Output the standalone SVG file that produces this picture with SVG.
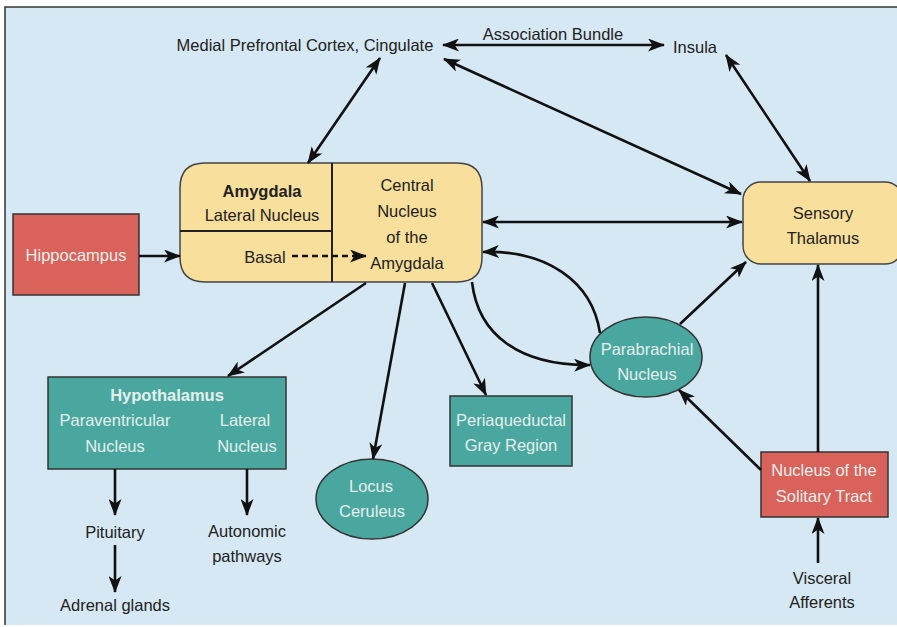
<svg xmlns="http://www.w3.org/2000/svg" width="897" height="627" viewBox="0 0 897 627">
<style>
text{font-family:"Liberation Sans",Arial,sans-serif;font-size:16.5px;fill:#222;text-anchor:middle}
.lt{fill:#e4efec}
.b{font-weight:bold}
.yel{fill:#f8df9c;stroke:#444;stroke-width:1.5}
.teal{fill:#4aa7a0;stroke:#333;stroke-width:1.5}
.red{fill:#d9625a;stroke:#333;stroke-width:1.5}
.c{fill:none;stroke:#111;stroke-width:2.6}
</style>
<defs>
<marker id="ah" viewBox="0 0 17 13" refX="16" refY="6.5" markerWidth="17" markerHeight="13" markerUnits="userSpaceOnUse" orient="auto-start-reverse">
<path d="M0,0 L17,6.5 L0,13 L4.5,6.5 z" fill="#111"/>
</marker>
</defs>
<rect x="0" y="0" width="897" height="627" fill="#fff"/>
<rect x="5" y="7" width="892" height="618" fill="#d6e8f3"/>
<path d="M5,625 V7 H897" fill="none" stroke="#333" stroke-width="1.5"/>

<g id="mpfc"><text x="305" y="51">Medial Prefrontal Cortex, Cingulate</text></g>
<g id="insula"><text x="695" y="53">Insula</text></g>
<g id="assoc"><text x="553" y="40">Association Bundle</text></g>

<g id="amygdala">
<path class="yel" d="M205,163 H457 Q482,163 482,188 V257 Q482,282 457,282 H205 Q180,282 180,257 V188 Q180,163 205,163 Z"/>
<line x1="332" y1="163" x2="332" y2="282" stroke="#222" stroke-width="2"/>
<line x1="180" y1="231" x2="332" y2="231" stroke="#222" stroke-width="2"/>
<text x="262" y="197" class="b">Amygdala</text>
<text x="262" y="221">Lateral Nucleus</text>
<text x="265" y="263">Basal</text>
<text x="407" y="191">Central</text>
<text x="407" y="217">Nucleus</text>
<text x="407" y="243">of the</text>
<text x="407" y="269">Amygdala</text>
</g>

<g id="hippocampus">
<rect class="red" x="13" y="214" width="126" height="81"/>
<text x="76" y="261" class="lt">Hippocampus</text>
</g>

<g id="thalamus">
<rect class="yel" x="743" y="182" width="160" height="82" rx="18"/>
<text x="823" y="219">Sensory</text>
<text x="823" y="244">Thalamus</text>
</g>

<g id="hypothalamus">
<rect class="teal" x="48" y="377" width="238" height="92"/>
<text x="167" y="401" class="b lt">Hypothalamus</text>
<text x="115" y="426" class="lt">Paraventricular</text>
<text x="115" y="452" class="lt">Nucleus</text>
<text x="245" y="426" class="lt">Lateral</text>
<text x="247" y="452" class="lt">Nucleus</text>
</g>

<g id="locus">
<ellipse class="teal" cx="372" cy="499" rx="56" ry="40"/>
<text x="371" y="492" class="lt">Locus</text>
<text x="372" y="517" class="lt">Ceruleus</text>
</g>

<g id="pag">
<rect class="teal" x="450" y="396" width="122" height="70"/>
<text x="511" y="426" class="lt">Periaqueductal</text>
<text x="511" y="451" class="lt">Gray Region</text>
</g>

<g id="parabrachial">
<ellipse class="teal" cx="646" cy="357" rx="56" ry="40"/>
<text x="647" y="355" class="lt">Parabrachial</text>
<text x="647" y="380" class="lt">Nucleus</text>
</g>

<g id="nts">
<rect class="red" x="761" y="452" width="127" height="65"/>
<text x="824" y="476" class="lt">Nucleus of the</text>
<text x="824" y="502" class="lt">Solitary Tract</text>
</g>

<g id="pituitary"><text x="115" y="538">Pituitary</text></g>
<g id="adrenal"><text x="115" y="611">Adrenal glands</text></g>
<g id="autonomic"><text x="247" y="537">Autonomic</text><text x="247" y="562">pathways</text></g>
<g id="visceral"><text x="822" y="584">Visceral</text><text x="822" y="608">Afferents</text></g>

<g id="connectors">
<line class="c" x1="443" y1="45" x2="664" y2="45" marker-start="url(#ah)" marker-end="url(#ah)"/>
<line class="c" x1="380" y1="58" x2="308" y2="163" marker-start="url(#ah)" marker-end="url(#ah)"/>
<line class="c" x1="444" y1="59" x2="741" y2="194" marker-start="url(#ah)" marker-end="url(#ah)"/>
<line class="c" x1="726" y1="55" x2="810" y2="181" marker-start="url(#ah)" marker-end="url(#ah)"/>
<line class="c" x1="483" y1="222" x2="742" y2="222" marker-start="url(#ah)" marker-end="url(#ah)"/>
<line class="c" x1="139" y1="256" x2="180" y2="256" marker-end="url(#ah)"/>
<line class="c" x1="292" y1="256" x2="366" y2="256" stroke-dasharray="6,4" marker-end="url(#ah)"/>
<path class="c" d="M600,333 C592,280 545,250 483,252" marker-end="url(#ah)"/>
<path class="c" d="M472,282 C478,335 520,366 590,365" marker-end="url(#ah)"/>
<line class="c" x1="680" y1="324" x2="746" y2="262" marker-end="url(#ah)"/>
<line class="c" x1="761" y1="470" x2="679" y2="390" marker-end="url(#ah)"/>
<line class="c" x1="818" y1="452" x2="818" y2="265" marker-end="url(#ah)"/>
<line class="c" x1="818" y1="563" x2="818" y2="518" marker-end="url(#ah)"/>
<line class="c" x1="366" y1="283" x2="228" y2="376" marker-end="url(#ah)"/>
<line class="c" x1="405" y1="283" x2="373" y2="459" marker-end="url(#ah)"/>
<line class="c" x1="432" y1="283" x2="486" y2="395" marker-end="url(#ah)"/>
<line class="c" x1="115" y1="469" x2="115" y2="515" marker-end="url(#ah)"/>
<line class="c" x1="247" y1="469" x2="247" y2="515" marker-end="url(#ah)"/>
<line class="c" x1="115" y1="545" x2="115" y2="592" marker-end="url(#ah)"/>
</g>
</svg>
